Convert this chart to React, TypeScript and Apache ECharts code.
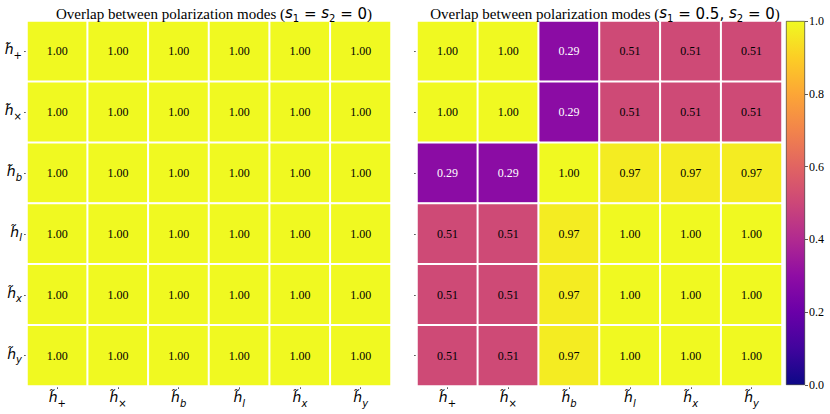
import React, { useEffect, useRef } from "react";
import * as echarts from "echarts";

const modes = ["+", "×", "b", "l", "x", "y"];
const leftValues: number[][] = [
  [1.0, 1.0, 1.0, 1.0, 1.0, 1.0],
  [1.0, 1.0, 1.0, 1.0, 1.0, 1.0],
  [1.0, 1.0, 1.0, 1.0, 1.0, 1.0],
  [1.0, 1.0, 1.0, 1.0, 1.0, 1.0],
  [1.0, 1.0, 1.0, 1.0, 1.0, 1.0],
  [1.0, 1.0, 1.0, 1.0, 1.0, 1.0],
];
const rightValues: number[][] = [
  [1.0, 1.0, 0.29, 0.51, 0.51, 0.51],
  [1.0, 1.0, 0.29, 0.51, 0.51, 0.51],
  [0.29, 0.29, 1.0, 0.97, 0.97, 0.97],
  [0.51, 0.51, 0.97, 1.0, 1.0, 1.0],
  [0.51, 0.51, 0.97, 1.0, 1.0, 1.0],
  [0.51, 0.51, 0.97, 1.0, 1.0, 1.0],
];
const colorbarTicks = [0, 0.2, 0.4, 0.6, 0.8, 1.0];

const plasma = [
  "#0d0887", "#41049d", "#6a00a8", "#8f0da4", "#b12a90", "#cc4778",
  "#e16462", "#f2844b", "#fca636", "#fcce25", "#f0f921",
];

const serif = "'Liberation Serif', 'Times New Roman', serif";
const math = "'DejaVu Sans', sans-serif";

function toData(m: number[][]) {
  const out: any[] = [];
  m.forEach((row, r) =>
    row.forEach((v, c) => {
      out.push({
        value: [c, r, v],
        label: { color: v < 0.4 ? "#ffffff" : "#000000" },
      });
    })
  );
  return out;
}

const catFormatter = (v: string) =>
  v === "+" || v === "×" ? `{h|h\u0303}{su|${v}}` : `{h|h\u0303}{si|${v}}`;

const catRich = {
  h: { fontFamily: math, fontStyle: "italic", fontSize: 14, color: "#000", lineHeight: 18, verticalAlign: "top" },
  su: { fontFamily: math, fontSize: 10, color: "#000", lineHeight: 10, verticalAlign: "bottom" },
  si: { fontFamily: math, fontStyle: "italic", fontSize: 10, color: "#000", lineHeight: 10, verticalAlign: "bottom" },
};

const titleRich = {
  t: { fontFamily: serif, fontSize: 15, fontWeight: "normal", color: "#000" },
  m: { fontFamily: math, fontStyle: "italic", fontWeight: "normal", fontSize: 15, color: "#000", lineHeight: 18, verticalAlign: "top" },
  sub: { fontFamily: math, fontSize: 10, fontWeight: "normal", color: "#000", lineHeight: 10, verticalAlign: "bottom" },
  e: { fontFamily: math, fontSize: 15, fontWeight: "normal", color: "#000" },
};

export default function App() {
  const ref = useRef<HTMLDivElement>(null);
  useEffect(() => {
    if (!ref.current) return;
    const chart = echarts.init(ref.current, null, { renderer: "svg" });
    const tick = { show: true, alignWithLabel: true, interval: 0, length: 3, lineStyle: { color: "#333", width: 0.8 } };
    const grids = [
      { left: 27, top: 21, width: 364, height: 365 },
      { left: 417, top: 21, width: 365, height: 365 },
      { left: 786, top: 21, width: 19, height: 364 },
    ];
    const heatX = (gi: number) => ({
      type: "category",
      gridIndex: gi,
      data: modes,
      axisLine: { show: false },
      axisTick: tick,
      splitArea: { show: false },
      axisLabel: { interval: 0, formatter: catFormatter, rich: catRich, margin: 4 },
    });
    const heatY = (gi: number, showLabel: boolean) => ({
      type: "category",
      gridIndex: gi,
      data: modes,
      inverse: true,
      axisLine: { show: false },
      axisTick: tick,
      axisLabel: { show: showLabel, interval: 0, formatter: catFormatter, rich: catRich, margin: 5 },
    });
    const label = {
      show: true,
      formatter: (p: any) => p.value[2].toFixed(2),
      fontFamily: serif,
      fontSize: 12,
    };
    chart.setOption({
      animation: false,
      backgroundColor: "#ffffff",
      title: [
        {
          text: "{t|Overlap between polarization modes (}{m|s}{sub|1}{e| = }{m|s}{sub|2}{e| = 0}{t|)}",
          left: 209, top: 0, textAlign: "center",
          textStyle: { fontWeight: "normal", rich: titleRich },
        },
        {
          text: "{t|Overlap between polarization modes (}{m|s}{sub|1}{e| = 0.5, }{m|s}{sub|2}{e| = 0}{t|)}",
          left: 600, top: 0, textAlign: "center",
          textStyle: { fontWeight: "normal", rich: titleRich },
        },
      ],
      grid: grids,
      xAxis: [
        heatX(0),
        heatX(1),
        { type: "category", gridIndex: 2, data: ["cb"], show: false },
      ],
      yAxis: [
        heatY(0, true),
        heatY(1, false),
        {
          type: "value",
          gridIndex: 2,
          position: "right",
          min: 0,
          max: 1,
          interval: 0.2,
          splitLine: { show: false },
          axisLine: { show: false },
          axisTick: { show: true, length: 3, lineStyle: { color: "#333", width: 0.8 } },
          axisLabel: {
            formatter: (v: number) => (colorbarTicks.includes(+v.toFixed(1)) ? v.toFixed(1) : ""),
            fontFamily: serif,
            fontSize: 12,
            color: "#000",
            margin: 4,
          },
        },
      ],
      visualMap: [
        { show: false, type: "continuous", min: 0, max: 1, seriesIndex: [0, 1], inRange: { color: plasma } },
      ],
      series: [
        {
          type: "heatmap",
          xAxisIndex: 0,
          yAxisIndex: 0,
          data: toData(leftValues),
          itemStyle: { borderColor: "#fff", borderWidth: 2 },
          label,
        },
        {
          type: "heatmap",
          xAxisIndex: 1,
          yAxisIndex: 1,
          data: toData(rightValues),
          itemStyle: { borderColor: "#fff", borderWidth: 2 },
          label,
        },
        {
          type: "bar",
          xAxisIndex: 2,
          yAxisIndex: 2,
          data: [1],
          barWidth: "100%",
          itemStyle: {
            color: new echarts.graphic.LinearGradient(
              0, 1, 0, 0,
              plasma.map((c, i) => ({ offset: i / (plasma.length - 1), color: c }))
            ),
            borderColor: "#222",
            borderWidth: 0.6,
          },
        },
      ],
    });
    return () => chart.dispose();
  }, []);
  return (
    <div
      ref={ref}
      style={{ position: "absolute", left: 0, top: 0, width: 830, height: 414 }}
    />
  );
}
